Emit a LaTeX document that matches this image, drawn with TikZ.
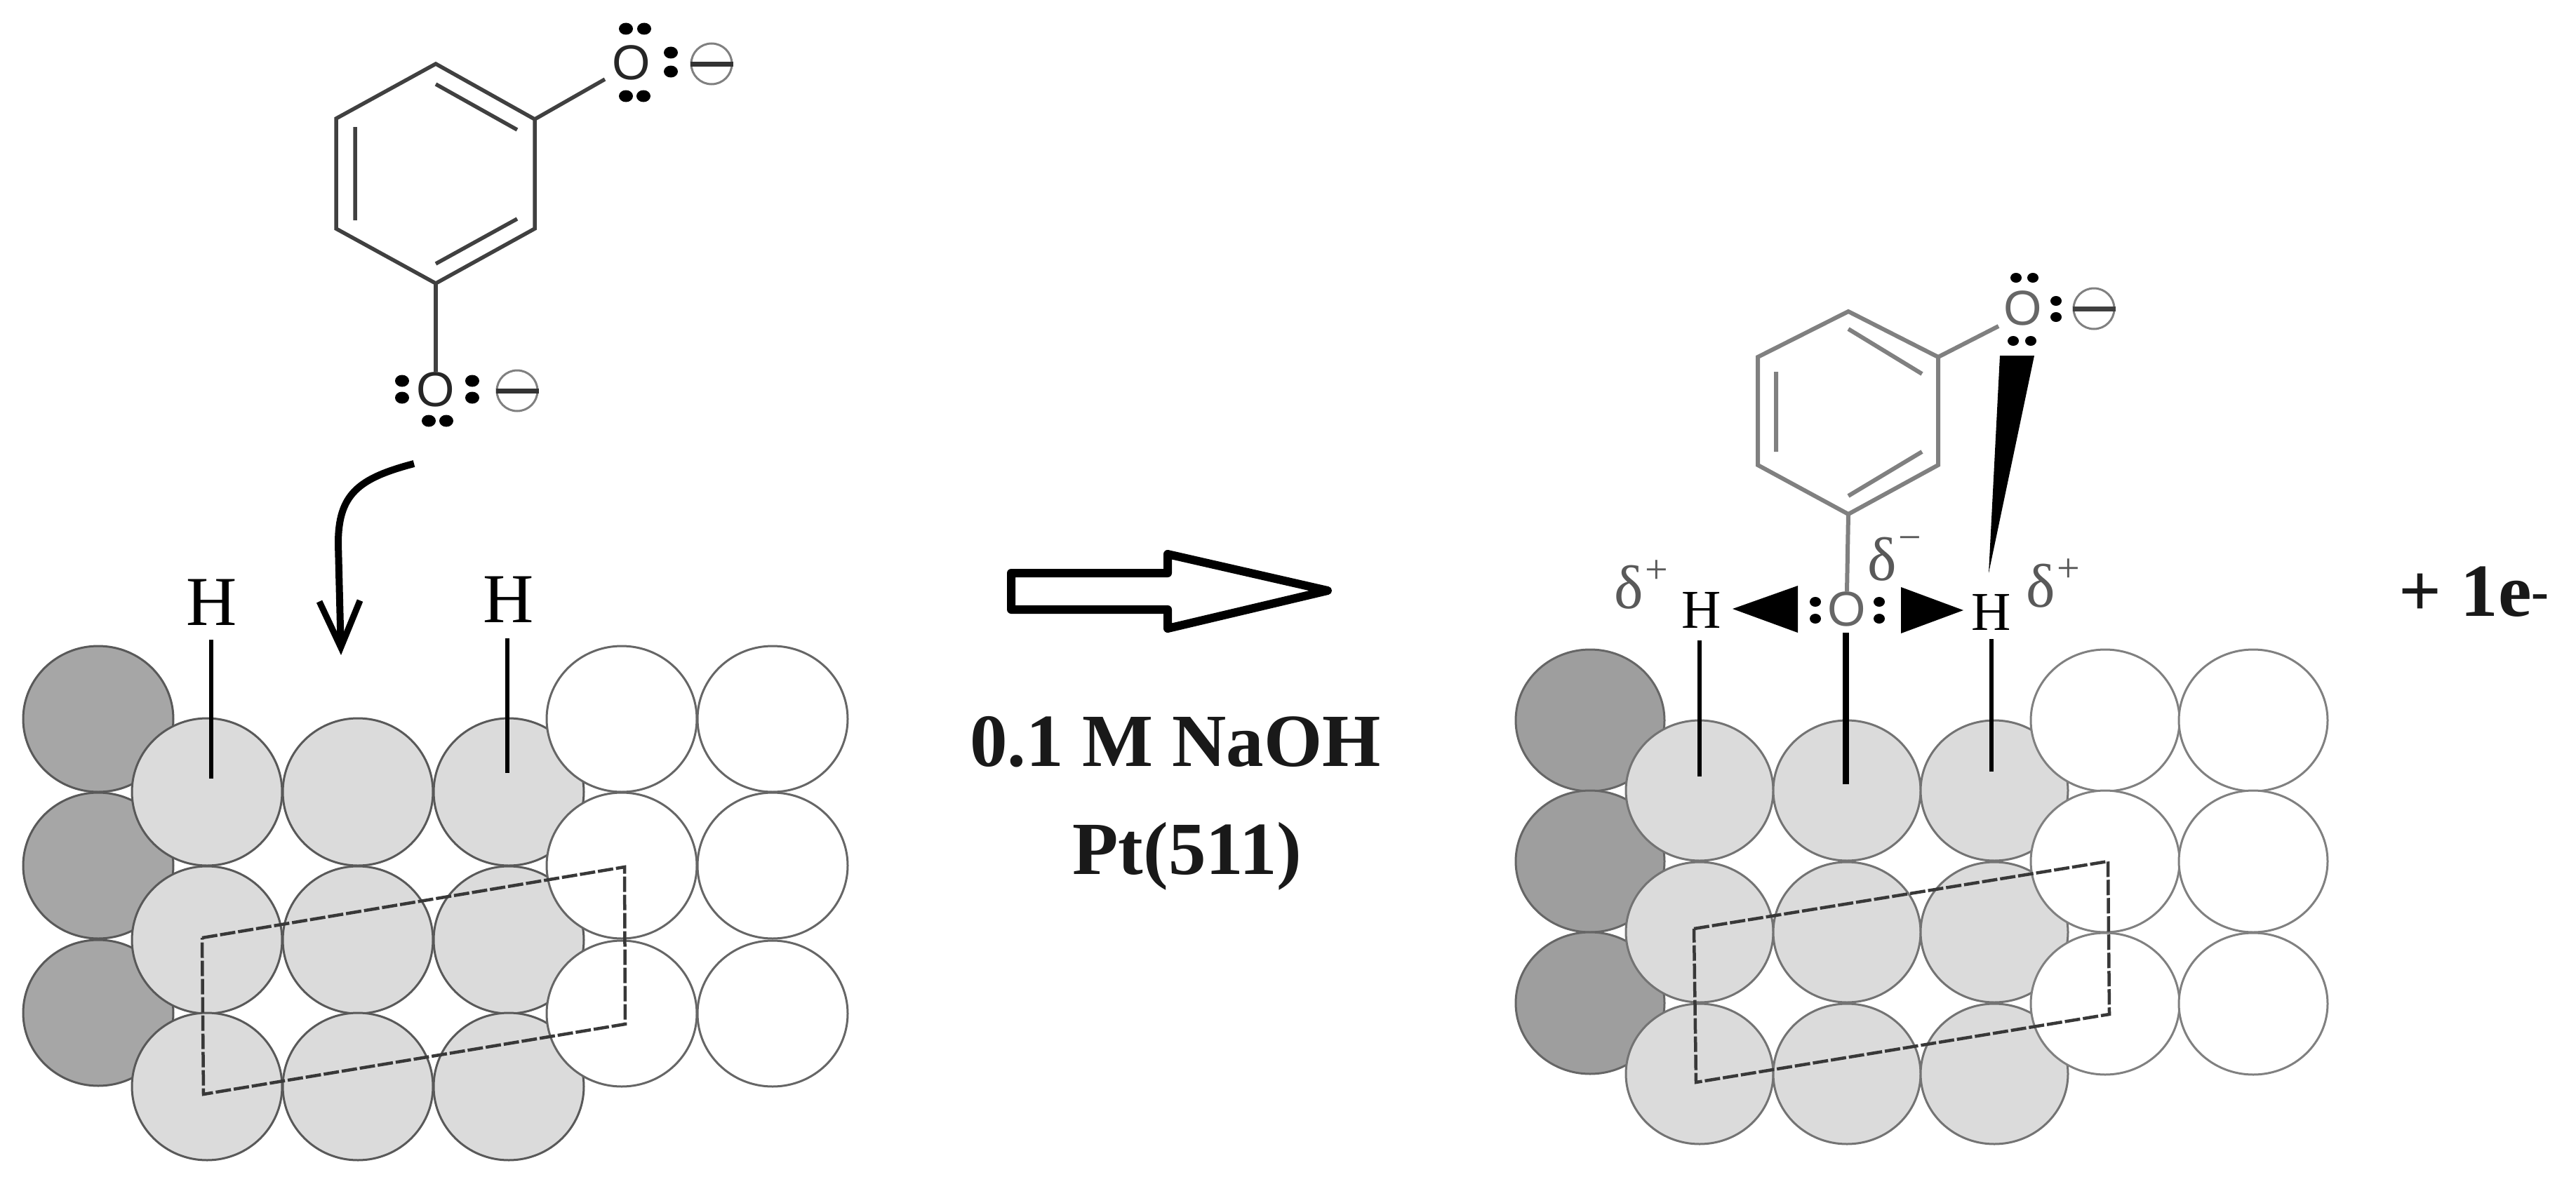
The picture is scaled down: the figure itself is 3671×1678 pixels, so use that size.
\documentclass[tikz,border=0pt]{standalone}
\usepackage{fontspec}
\setmainfont{Liberation Serif}
\setsansfont{Liberation Sans}
\usetikzlibrary{arrows.meta}
\newcommand{\dsup}[2]{\hspace{3pt}\raisebox{#2pt}{\fontsize{58}{58}\selectfont #1}}
\tikzset{
  darkatom/.style={draw=black!65, line width=3pt, fill=black!35},
  lightatom/.style={draw=black!65, line width=3pt, fill=black!14},
  whiteatom/.style={draw=black!60, line width=3pt, fill=white},
  cell/.style={draw=black!78, line width=4.5pt, dash pattern=on 22pt off 4pt},
  ringbond/.style={line width=5.5pt, draw=#1},
  ringbond/.default=black!75,
  oxy/.style={font=\sffamily\fontsize{70}{74}\selectfont, inner sep=0pt, text=#1},
  oxy/.default=black!85,
  minuscirc/.style={circle, draw=black!50, line width=3pt, minimum size=58pt, inner sep=0pt},
  minusbar/.style={line width=7pt, black!80},
  hlabel/.style={font=\fontsize{#1}{#1}\selectfont, inner sep=0pt, anchor=base},
  delta/.style={font=\fontsize{88}{88}\selectfont, inner sep=0pt, anchor=base west, text=black!65},
  bigtext/.style={font=\bfseries\fontsize{107}{120}\selectfont, inner sep=0pt, anchor=base, text=black!90}
}

\begin{document}
\begin{tikzpicture}[x=1pt, y=-1pt]
  \useasboundingbox (0,0) rectangle (3671,1678); % page size

  % left slab
  \foreach \y in {1025,1234,1444} \draw[darkatom] (140,\y) ellipse [x radius=107, y radius=104];
  \foreach \x in {295,510,725} \foreach \y in {1129,1340,1549} \draw[lightatom] (\x,\y) ellipse [x radius=107, y radius=105];
  \foreach \x in {886,1101} \foreach \y in {1025,1234,1445} \draw[whiteatom] (\x,\y) ellipse [x radius=107, y radius=104];
  \draw[cell] (288,1337) -- (890,1236) -- (891,1460) -- (290,1560) -- cycle; % unit cell

  % left molecule
  \coordinate (la) at (621,91);
  \coordinate (lb) at (762,170);
  \coordinate (lc) at (762,326);
  \coordinate (ld) at (621,404);
  \coordinate (le) at (479,326);
  \coordinate (lf) at (479,169);
  \draw[ringbond, line join=miter] (la) -- (lb) -- (lc) -- (ld) -- (le) -- (lf) -- cycle;
  \draw[ringbond] (621,120) -- (737,185) (737,312) -- (621,376) (506,181) -- (506,314); % double bonds
  \node[oxy] (ltopo) at (900,89) {O};
  \node[oxy] (lbotto) at (621,555) {O};
  \draw[ringbond] (lb) -- (862,113);
  \draw[ringbond] (ld) -- (lbotto.north);
  \foreach \p in {(892,41),(918,41),(892,137),(917,137),(956,75),(956,102),(573,543),(573,567),(673,543),(673,567),(611,600),(636,600)}
    \fill \p ellipse [x radius=10, y radius=8.5]; % lone pairs
  \node[minuscirc] (ltopm) at (1014,91) {};
  \draw[minusbar] (ltopm.west) -- (ltopm.east);
  \node[minuscirc] (lbotm) at (737,557) {};
  \draw[minusbar] (lbotm.west) -- (lbotm.east);

  % curved arrow
  \coordinate (cstart) at (590,661);
  \coordinate (cend) at (486,934);
  \draw[line width=10pt, -{Straight Barb[length=66pt, width=58pt, line width=9pt]}] (cstart) .. controls (510,682) and (482,705) .. (482,775) -- (cend);

  % left hydrogens
  \node[hlabel=100] (lhone) at (302,891) {H};
  \node[hlabel=100] (lhtwo) at (725,887) {H};
  \coordinate (lhonee) at (301,1110);
  \coordinate (lhtwoe) at (723,1102);
  \draw[line width=6pt] (301,912) -- (lhonee);
  \draw[line width=6pt] (723,910) -- (lhtwoe);

  % reaction arrow
  \draw[line width=12pt, line join=round, fill=white] (1441,817) -- (1664,817) -- (1664,790) -- (1892,842) -- (1664,896) -- (1664,869) -- (1441,869) -- cycle;
  \node[bigtext] (cond) at (1675,1092) {0.1 M NaOH};
  \node[bigtext] (facet) at (1692,1246) {Pt(511)};
  \node[bigtext] (elec) at (3526,878) {+ 1e\textsuperscript{-}};

  % right slab
  \foreach \y in {1027,1228,1430} \draw[darkatom, draw=black!60, fill=black!38] (2266,\y) ellipse [x radius=106, y radius=101];
  \foreach \x in {2422,2632,2842} \foreach \y in {1127,1329,1531} \draw[lightatom, draw=black!55] (\x,\y) ellipse [x radius=105, y radius=100];
  \foreach \x in {3000,3211} \foreach \y in {1027,1228,1431} \draw[whiteatom, draw=black!50] (\x,\y) ellipse [x radius=106, y radius=101];
  \draw[cell] (2414,1324) -- (3004,1228) -- (3006,1446) -- (2417,1543) -- cycle;

  % right molecule
  \coordinate (ra) at (2634,444);
  \coordinate (rb) at (2762,509);
  \coordinate (rc) at (2762,663);
  \coordinate (rd) at (2634,733);
  \coordinate (re) at (2505,663);
  \coordinate (rf) at (2505,509);
  \draw[ringbond=black!50, line width=6pt] (ra) -- (rb) -- (rc) -- (rd) -- (re) -- (rf) -- cycle;
  \draw[ringbond=black!50, line width=6pt] (2634,469) -- (2739,533) (2739,644) -- (2634,707) (2531,530) -- (2531,644);
  \node[oxy=black!60] (rtopo) at (2883,439) {O};
  \node[oxy=black!60] (rbotto) at (2632,868) {O};
  \draw[ringbond=black!50, line width=6pt] (rb) -- (2848,465);
  \draw[ringbond=black!50, line width=6pt] (rd) -- (rbotto.north);
  \foreach \p in {(2873,396),(2897,396),(2869,486),(2894,486),(2930,429),(2930,452),(2587,858),(2587,882),(2678,858),(2678,882)}
    \fill \p ellipse [x radius=8, y radius=7];
  \node[minuscirc] (rtopm) at (2984,440) {};
  \draw[minusbar, black!75] (rtopm.west) -- (rtopm.east);

  % right hydrogens
  \node[hlabel=78] (rhone) at (2425,895) {H};
  \node[hlabel=78] (rhtwo) at (2838,898) {H};
  \coordinate (rhonee) at (2422,1107);
  \coordinate (rotwoe) at (2630,1118);
  \coordinate (rhtwoe) at (2838,1100);
  \draw[line width=6pt] (2422,913) -- (rhonee);
  \draw[line width=9pt] (2630,902) -- (rotwoe);
  \draw[line width=6pt] (2838,911) -- (rhtwoe);

  % wedges
  \fill[line join=round] (2469,868) -- (2562,835) -- (2562,902) -- cycle;
  \fill[line join=round] (2798,870) -- (2709,837) -- (2709,903) -- cycle;
  \fill (2834,817) -- (2850,507) -- (2899,507) -- cycle;

  % partial charges
  \node[delta] (dleft) at (2300,867) {δ\dsup{+}{36}};
  \node[delta] (dmid) at (2661,827) {δ\dsup{−}{42}};
  \node[delta] (dright) at (2887,865) {δ\dsup{+}{36}};
\end{tikzpicture}
\end{document}
